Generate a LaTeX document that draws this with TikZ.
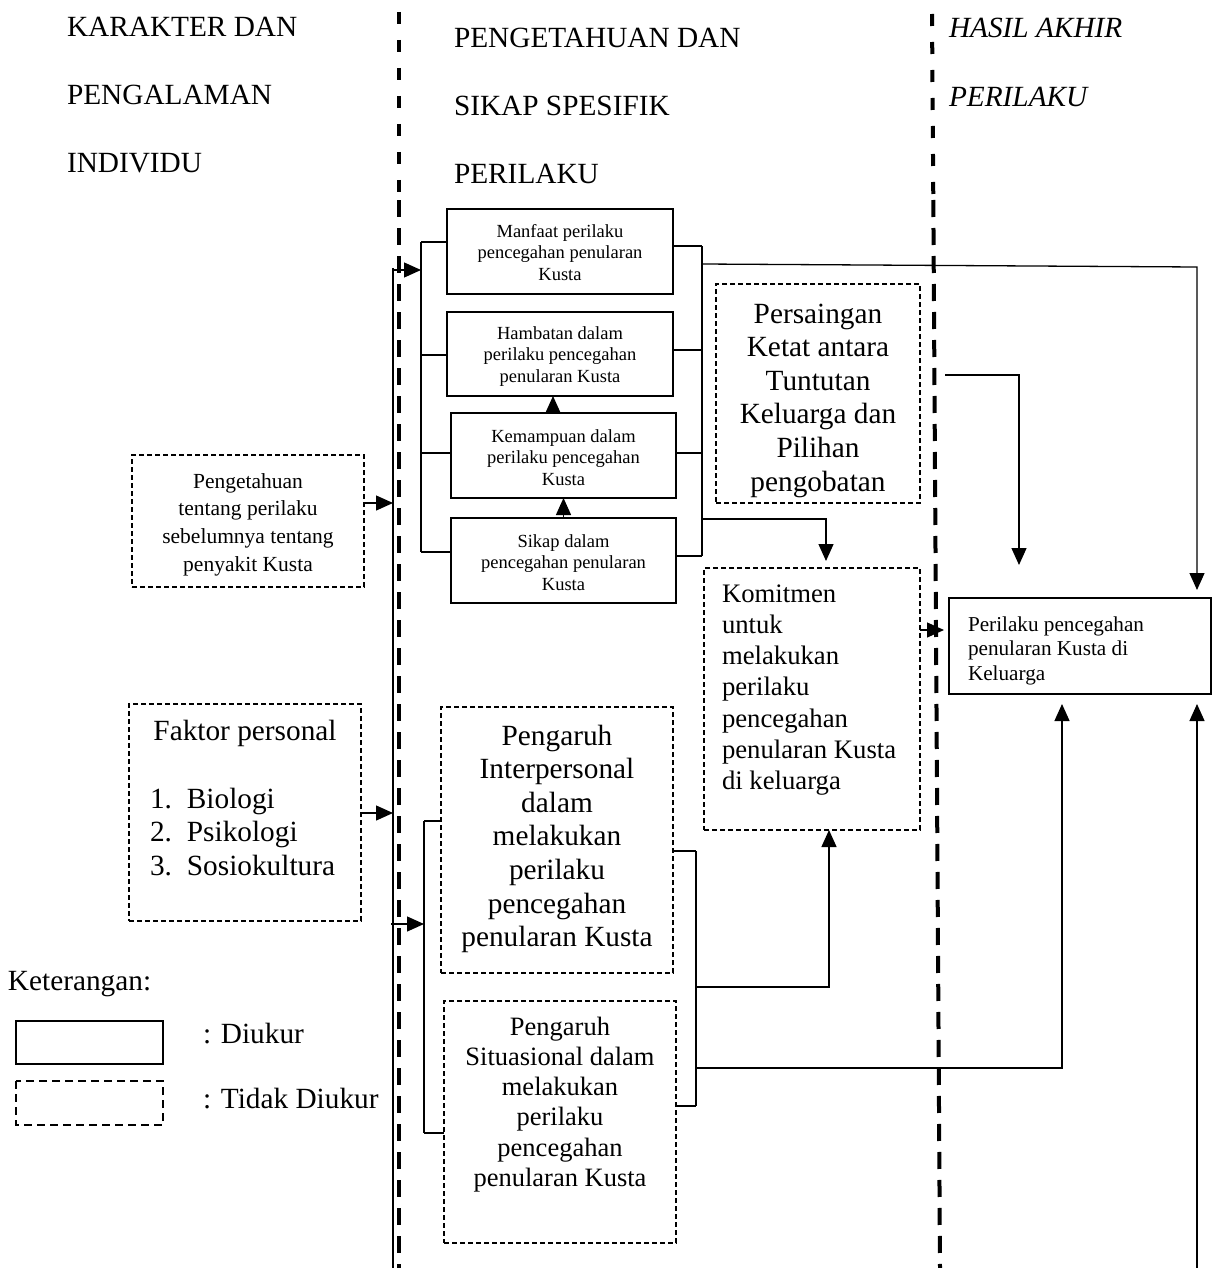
\documentclass[tikz,border=0pt]{standalone}
\usepackage{fontspec}
\setmainfont{Liberation Serif}
\usetikzlibrary{arrows.meta,calc}
\newcommand{\mtab}[2]{\begin{tabular}[t]{@{}#1@{}}#2\end{tabular}}
\begin{document}
\begin{tikzpicture}[x=1pt,y=-1pt,
  every node/.style={inner sep=0pt, outer sep=0pt},
  sbox/.style={draw, line width=1.4pt, rectangle},
  dbox/.style={draw, line width=1.1pt, dash pattern=on 5pt off 3pt},
  conn/.style={line width=1.3pt},
  arr/.style={conn, -{Triangle[length=17pt,width=15pt]}},
  sepline/.style={line width=4pt, dash pattern=on 17pt off 11pt},
  septop/.style={line width=4pt, dash pattern=on 12pt off 16pt},
  fhead/.style={font=\fontsize{29.3}{68}\selectfont},
  fbig/.style={font=\fontsize{29.3}{33.6}\selectfont},
  fsml/.style={font=\fontsize{18.5}{21.5}\selectfont},
  fkom/.style={font=\fontsize{26.7}{31.3}\selectfont},
  fsit/.style={font=\fontsize{26.5}{30.3}\selectfont},
  fpen/.style={font=\fontsize{21.5}{27.8}\selectfont},
  fper/.style={font=\fontsize{21.2}{24.5}\selectfont},
]
\useasboundingbox (0,0) rectangle (1213,1268);

% separators
\draw[septop] (399,12) -- (399,200);
\draw[sepline] (399,200) -- (399,1268);
\draw[septop] (932,14) -- (933.3,200);
\draw[sepline] (933.3,200) -- (940,1268);

% headers
\node[fhead, anchor=base west] (h1) at (67,37) {\mtab{l}{KARAKTER DAN\\PENGALAMAN\\INDIVIDU}};
\node[fhead, anchor=base west] (h2) at (454,48) {\mtab{l}{PENGETAHUAN DAN\\SIKAP SPESIFIK\\PERILAKU}};
\node[font=\fontsize{29.3}{69}\selectfont\itshape, anchor=base west] (h3) at (949,38) {\mtab{l}{HASIL AKHIR\\PERILAKU}};

% solid boxes
\node[sbox, minimum width=226pt, minimum height=85pt] (manfaat) at (560,251.5) {};
\node[sbox, minimum width=226pt, minimum height=84pt] (hambatan) at (560,354) {};
\node[sbox, minimum width=225pt, minimum height=85pt] (kemampuan) at (563.5,455.5) {};
\node[sbox, minimum width=225pt, minimum height=85pt] (sikap) at (563.5,560.5) {};
\node[sbox, minimum width=262pt, minimum height=96pt] (perilaku) at (1080,646) {};

% dashed boxes
\node[dbox, minimum width=204pt, minimum height=219pt] (persaingan) at (818,393.5) {};
\node[dbox, minimum width=216pt, minimum height=262pt] (komitmen) at (812,699) {};
\node[dbox, minimum width=232pt, minimum height=132pt] (pengetahuan) at (248,521) {};
\node[dbox, minimum width=232pt, minimum height=217pt] (faktor) at (245,812.5) {};
\node[dbox, minimum width=232pt, minimum height=266pt] (interpersonal) at (557,840) {};
\node[dbox, minimum width=232pt, minimum height=242pt] (situasional) at (560,1122) {};

% texts
\node[fsml, anchor=base] (manfaatT) at (560,237) {\mtab{c}{Manfaat perilaku\\pencegahan penularan\\Kusta}};
\node[fsml, anchor=base] (hambatanT) at (560,339) {\mtab{c}{Hambatan dalam\\perilaku pencegahan\\penularan Kusta}};
\node[fsml, anchor=base] (kemampuanT) at (563.5,442) {\mtab{c}{Kemampuan dalam\\perilaku pencegahan\\Kusta}};
\node[fsml, anchor=base] (sikapT) at (563.5,547) {\mtab{c}{Sikap dalam\\pencegahan penularan\\Kusta}};
\node[fbig, anchor=base] (persainganT) at (818,323) {\mtab{c}{Persaingan\\Ketat antara\\Tuntutan\\Keluarga dan\\Pilihan\\pengobatan}};
\node[fkom, anchor=base west] (komitmenT) at (722,602) {\mtab{l}{Komitmen\\untuk\\melakukan\\perilaku\\pencegahan\\penularan Kusta\\di keluarga}};
\node[fper, anchor=base west] (perilakuT) at (968,631) {\mtab{l}{Perilaku pencegahan\\penularan Kusta di\\Keluarga}};
\node[fpen, anchor=base] (pengetahuanT) at (248,488) {\mtab{c}{Pengetahuan\\tentang perilaku\\sebelumnya tentang\\penyakit Kusta}};
\node[fbig, anchor=base] (faktorT) at (245,740) {Faktor personal};
\node[fbig, anchor=base west] (faktorL) at (150,808) {\begin{tabular}[t]{@{}l@{\hspace{15pt}}l@{}}1.&Biologi\\2.&Psikologi\\3.&Sosiokultura\end{tabular}};
\node[fbig, anchor=base] (interpersonalT) at (557,745) {\mtab{c}{Pengaruh\\Interpersonal\\dalam\\melakukan\\perilaku\\pencegahan\\penularan Kusta}};
\node[fsit, anchor=base] (situasionalT) at (560,1035) {\mtab{c}{Pengaruh\\Situasional dalam\\melakukan\\perilaku\\pencegahan\\penularan Kusta}};

% legend
\node[fbig, anchor=base west] (ket) at (8,990) {Keterangan:};
\draw[line width=2pt] (16,1021) rectangle (163,1064);
\draw[line width=2pt, dash pattern=on 8pt off 5pt] (16,1081) rectangle (163,1125);
\node[fbig, anchor=base west] (diukur) at (203,1043) {: Diukur};
\node[fbig, anchor=base west] (tdiukur) at (203,1108) {: Tidak Diukur};

% bus and brackets
\coordinate (busTop) at (393,268);
\coordinate (busBot) at (393,1268);
\draw[conn] (busTop) -- (busBot);

\coordinate (brLa) at (421,242);
\coordinate (brLb) at (421,552);
\draw[conn] (brLa) -- (brLb);
\draw[conn] (brLa) -- (manfaat.west |- brLa);
\draw[conn] (421,355) -- (hambatan.west |- 0,355);
\draw[conn] (421,453) -- (kemampuan.west |- 0,453);
\draw[conn] (brLb) -- (sikap.west |- brLb);
\draw[arr] (393,270) -- (421,270);

\draw[arr] (pengetahuan.east |- 0,503) -- (393,503);
\draw[arr] (faktor.east |- 0,813) -- (393,813);
\draw[arr] (391,924) -- (424,924);

\coordinate (brL2a) at (424,821);
\coordinate (brL2b) at (424,1133);
\draw[conn] (brL2a) -- (brL2b);
\draw[conn] (brL2a) -- (interpersonal.west |- brL2a);
\draw[conn] (brL2b) -- (situasional.west |- brL2b);

\coordinate (brRa) at (702,246);
\coordinate (brRb) at (702,556);
\draw[conn] (brRa) -- (brRb);
\draw[conn] (manfaat.east |- brRa) -- (brRa);
\draw[conn] (hambatan.east |- 0,350) -- (702,350);
\draw[conn] (kemampuan.east |- 0,453) -- (702,453);
\draw[conn] (sikap.east |- brRb) -- (brRb);

\draw[arr] (sikap.north) -- (kemampuan.south);
\draw[arr] (kemampuan.north -| 553,0) -- (hambatan.south -| 553,0);

\coordinate (brR2a) at (696,851);
\coordinate (brR2b) at (696,1106);
\draw[conn] (brR2a) -- (brR2b);
\draw[conn] (interpersonal.east |- brR2a) -- (brR2a);
\draw[conn] (situasional.east |- brR2b) -- (brR2b);

% connectors to right
\draw[arr] (702,264) -- (1197,267) -- ($(perilaku.north -| 1197,0)+(0,-8)$);
\draw[arr] (702,519) -| ($(komitmen.north -| 826,0)+(0,-7)$);
\coordinate (persOut) at (945,375);
\draw[arr] (persOut) -| ($(perilaku.north -| 1019,0)+(0,-33)$);
\draw[arr] (komitmen.east |- 0,630) -- (944,630);
\draw[arr] (696,987) -| (komitmen.south -| 829,0);
\draw[arr] (696,1068) -| ($(perilaku.south -| 1062,0)+(0,10)$);
\draw[arr] (1197,1268) -- ($(perilaku.south -| 1197,0)+(0,10)$);
\end{tikzpicture}
\end{document}
